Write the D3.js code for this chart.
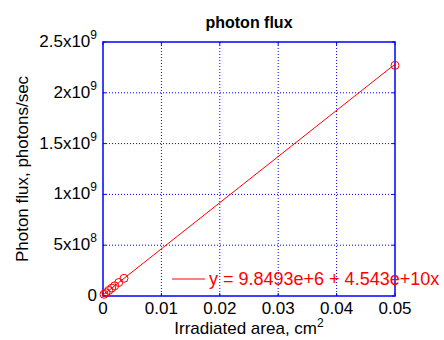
<!DOCTYPE html>
<meta charset="utf-8">
<style>
  body { margin: 0; background: #fff; }
  text { font-family: "Liberation Sans", Arial, sans-serif; }
</style>
<div id="chart"></div>
<script src="https://d3js.org/d3.v7.min.js"></script>
<script>

// measured points (area in cm^2, flux in photons/sec)
var area = [0.00017, 0.0005, 0.001, 0.0015, 0.002, 0.0027, 0.0036, 0.05]
var flux = [1.7e7, 3.2e7, 5.5e7, 7.8e7, 1.0e8, 1.33e8, 1.74e8, 2.27e9]

var xTicks = [0, 0.01, 0.02, 0.03, 0.04, 0.05]
var xTickLabels = ["0", "0.01", "0.02", "0.03", "0.04", "0.05"]
var yTicks = [0, 5e8, 1e9, 1.5e9, 2e9, 2.5e9]
var yMant = ["0", "5x10", "1x10", "1.5x10", "2x10", "2.5x10"]
var yExp = ["", "8", "9", "9", "9", "9"]

var fitB = 9.8493e6, fitM = 4.543e10
var fitLabel = "y = 9.8493e+6 + 4.543e+10x"

var width = 444, height = 340
var pL = 103, pR = 395, pT = 42, pB = 296
var blue = "#0000ff", red = "#ff0000"

var svg = d3.select("#chart").append("svg")
  .attr("width", width)
  .attr("height", height)

var x = d3.scaleLinear().domain([0, 0.05]).range([pL, pR])
var y = d3.scaleLinear().domain([0, 2.5e9]).range([pB, pT])

// grid
svg.selectAll(".gx").data(xTicks.slice(1, -1)).enter().append("line")
  .attr("x1", d => x(d)).attr("x2", d => x(d))
  .attr("y1", pT).attr("y2", pB)
  .attr("stroke", blue).attr("stroke-width", 1)
  .attr("stroke-dasharray", "1,2")
svg.selectAll(".gy").data(yTicks.slice(1, -1)).enter().append("line")
  .attr("y1", d => y(d)).attr("y2", d => y(d))
  .attr("x1", pL).attr("x2", pR)
  .attr("stroke", blue).attr("stroke-width", 1)
  .attr("stroke-dasharray", "1,2")

// axes box
svg.append("rect")
  .attr("x", pL).attr("y", pT)
  .attr("width", pR - pL).attr("height", pB - pT)
  .attr("fill", "none").attr("stroke", blue).attr("stroke-width", 1.5)

// inner ticks
var tl = 3
svg.selectAll(".tx").data(xTicks).enter().append("path")
  .attr("d", d => "M" + x(d) + "," + pB + "v" + (-tl) + "M" + x(d) + "," + pT + "v" + tl)
  .attr("stroke", blue)
svg.selectAll(".ty").data(yTicks).enter().append("path")
  .attr("d", d => "M" + pL + "," + y(d) + "h" + tl + "M" + pR + "," + y(d) + "h" + (-tl))
  .attr("stroke", blue)

// tick labels
svg.selectAll(".lx").data(xTicks).enter().append("text")
  .attr("x", d => x(d)).attr("y", pB + 18)
  .attr("text-anchor", "middle")
  .attr("font-size", 17)
  .text((d, i) => xTickLabels[i])

var yl = svg.selectAll(".ly").data(yTicks).enter().append("text")
  .attr("x", pL - 6).attr("y", d => y(d) + 5)
  .attr("text-anchor", "end")
  .attr("font-size", 17)
yl.append("tspan").text((d, i) => yMant[i])
yl.append("tspan").attr("dy", -8).attr("font-size", 12).text((d, i) => yExp[i])

// fit line + points
svg.append("line")
  .attr("x1", x(0)).attr("y1", y(fitB))
  .attr("x2", x(0.05)).attr("y2", y(fitB + fitM * 0.05))
  .attr("stroke", red).attr("stroke-width", 1)

svg.selectAll(".pt").data(area).enter().append("circle")
  .attr("cx", d => x(d))
  .attr("cy", (d, i) => y(flux[i]))
  .attr("r", 4)
  .attr("fill", "none").attr("stroke", red).attr("stroke-width", 1)

// legend
svg.append("line")
  .attr("x1", 172).attr("x2", 205).attr("y1", 279).attr("y2", 279)
  .attr("stroke", red)
svg.append("text")
  .attr("x", 209).attr("y", 285)
  .attr("font-size", 18).attr("fill", red)
  .text(fitLabel)

// title + labels
svg.append("text")
  .attr("x", (pL + pR) / 2).attr("y", 28)
  .attr("text-anchor", "middle")
  .attr("font-size", 16).attr("font-weight", "bold")
  .text("photon flux")

var xl = svg.append("text")
  .attr("x", (pL + pR) / 2).attr("y", 334)
  .attr("text-anchor", "middle")
  .attr("font-size", 17)
xl.append("tspan").text("Irradiated area, cm")
xl.append("tspan").attr("dy", -7).attr("font-size", 12).text("2")

svg.append("text")
  .attr("transform", "translate(28," + (pT + pB) / 2 + ") rotate(-90)")
  .attr("text-anchor", "middle")
  .attr("font-size", 17)
  .text("Photon flux, photons/sec")

</script>
